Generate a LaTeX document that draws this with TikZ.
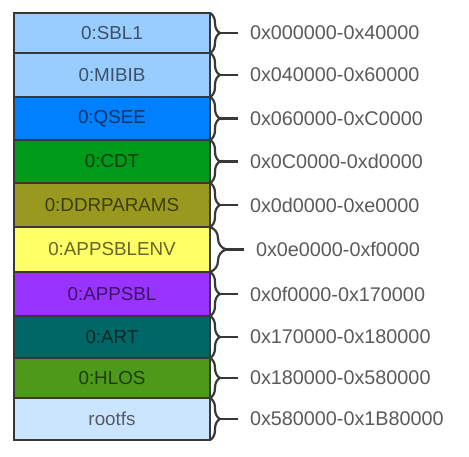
\documentclass[tikz,border=0pt]{standalone}
\usepackage{fontspec}
\setmainfont{Liberation Sans}
\usetikzlibrary{decorations.pathreplacing}
\definecolor{frame}{HTML}{383838}
\definecolor{addrgray}{HTML}{5A5A5A}
\definecolor{cSBL}{HTML}{99CCFF}
\definecolor{cMIB}{HTML}{99CCFF}
\definecolor{cQSEE}{HTML}{0080FF}
\definecolor{cCDT}{HTML}{009A1A}
\definecolor{cDDR}{HTML}{99991F}
\definecolor{cENV}{HTML}{FFFF66}
\definecolor{cAPP}{HTML}{9933FF}
\definecolor{cART}{HTML}{006666}
\definecolor{cHLOS}{HTML}{4D991A}
\definecolor{cROOT}{HTML}{CCE5FF}
\begin{document}
\begin{tikzpicture}[x=1pt,y=-1pt,
  part/.style={draw=frame, line width=2.4pt, outer sep=0pt, inner sep=0pt,
    minimum width=196pt, font=\fontsize{18.8}{19}\selectfont,
    text=black, text opacity=0.6},
  addr/.style={anchor=west, inner sep=0pt, outer sep=0pt,
    font=\fontsize{19.8}{20}\selectfont, text=addrgray},
  brc/.style={draw=frame, line width=2.2pt, decorate,
    decoration={brace, amplitude=#1}},
  tick/.style={draw=frame, line width=2.2pt}]
\useasboundingbox (0,0) rectangle (469,457);
\foreach \n/\t/\b/\c/\txt/\adr/\amp in {
  sbl/13/53/cSBL/0:SBL1/0x000000-0x40000/10,
  mibib/53/97/cMIB/0:MIBIB/0x040000-0x60000/10,
  qsee/97/140/cQSEE/0:QSEE/0x060000-0xC0000/10,
  cdt/140/183/cCDT/0:CDT/0x0C0000-0xd0000/10,
  ddr/183/227/cDDR/0:DDRPARAMS/0x0d0000-0xe0000/10,
  env/227/272/cENV/0:APPSBLENV/0x0e0000-0xf0000/16,
  app/272/316/cAPP/0:APPSBL/0x0f0000-0x170000/10,
  art/316/358/cART/0:ART/0x170000-0x180000/10,
  hlos/358/398/cHLOS/0:HLOS/0x180000-0x580000/10,
  root/398/440/cROOT/rootfs/0x580000-0x1B80000/10}
{
  \pgfmathsetmacro\m{(\t+\b)/2}
  \pgfmathsetmacro\h{\b-\t}
  \pgfmathsetmacro\lx{240+\amp}
  \node[part, fill=\c, minimum height=\h pt] (\n) at (112,\m) {\txt};
  \draw[brc=\amp pt] (\n.north east) -- (\n.south east);
  \coordinate (\n tip) at ([xshift=\amp pt]\n.east);
  \node[addr] (\n lbl) at (\lx,\m) {\adr};
  \draw[tick] (\n tip) -- ([xshift=-12pt]\n lbl.west);
}
\end{tikzpicture}
\end{document}
